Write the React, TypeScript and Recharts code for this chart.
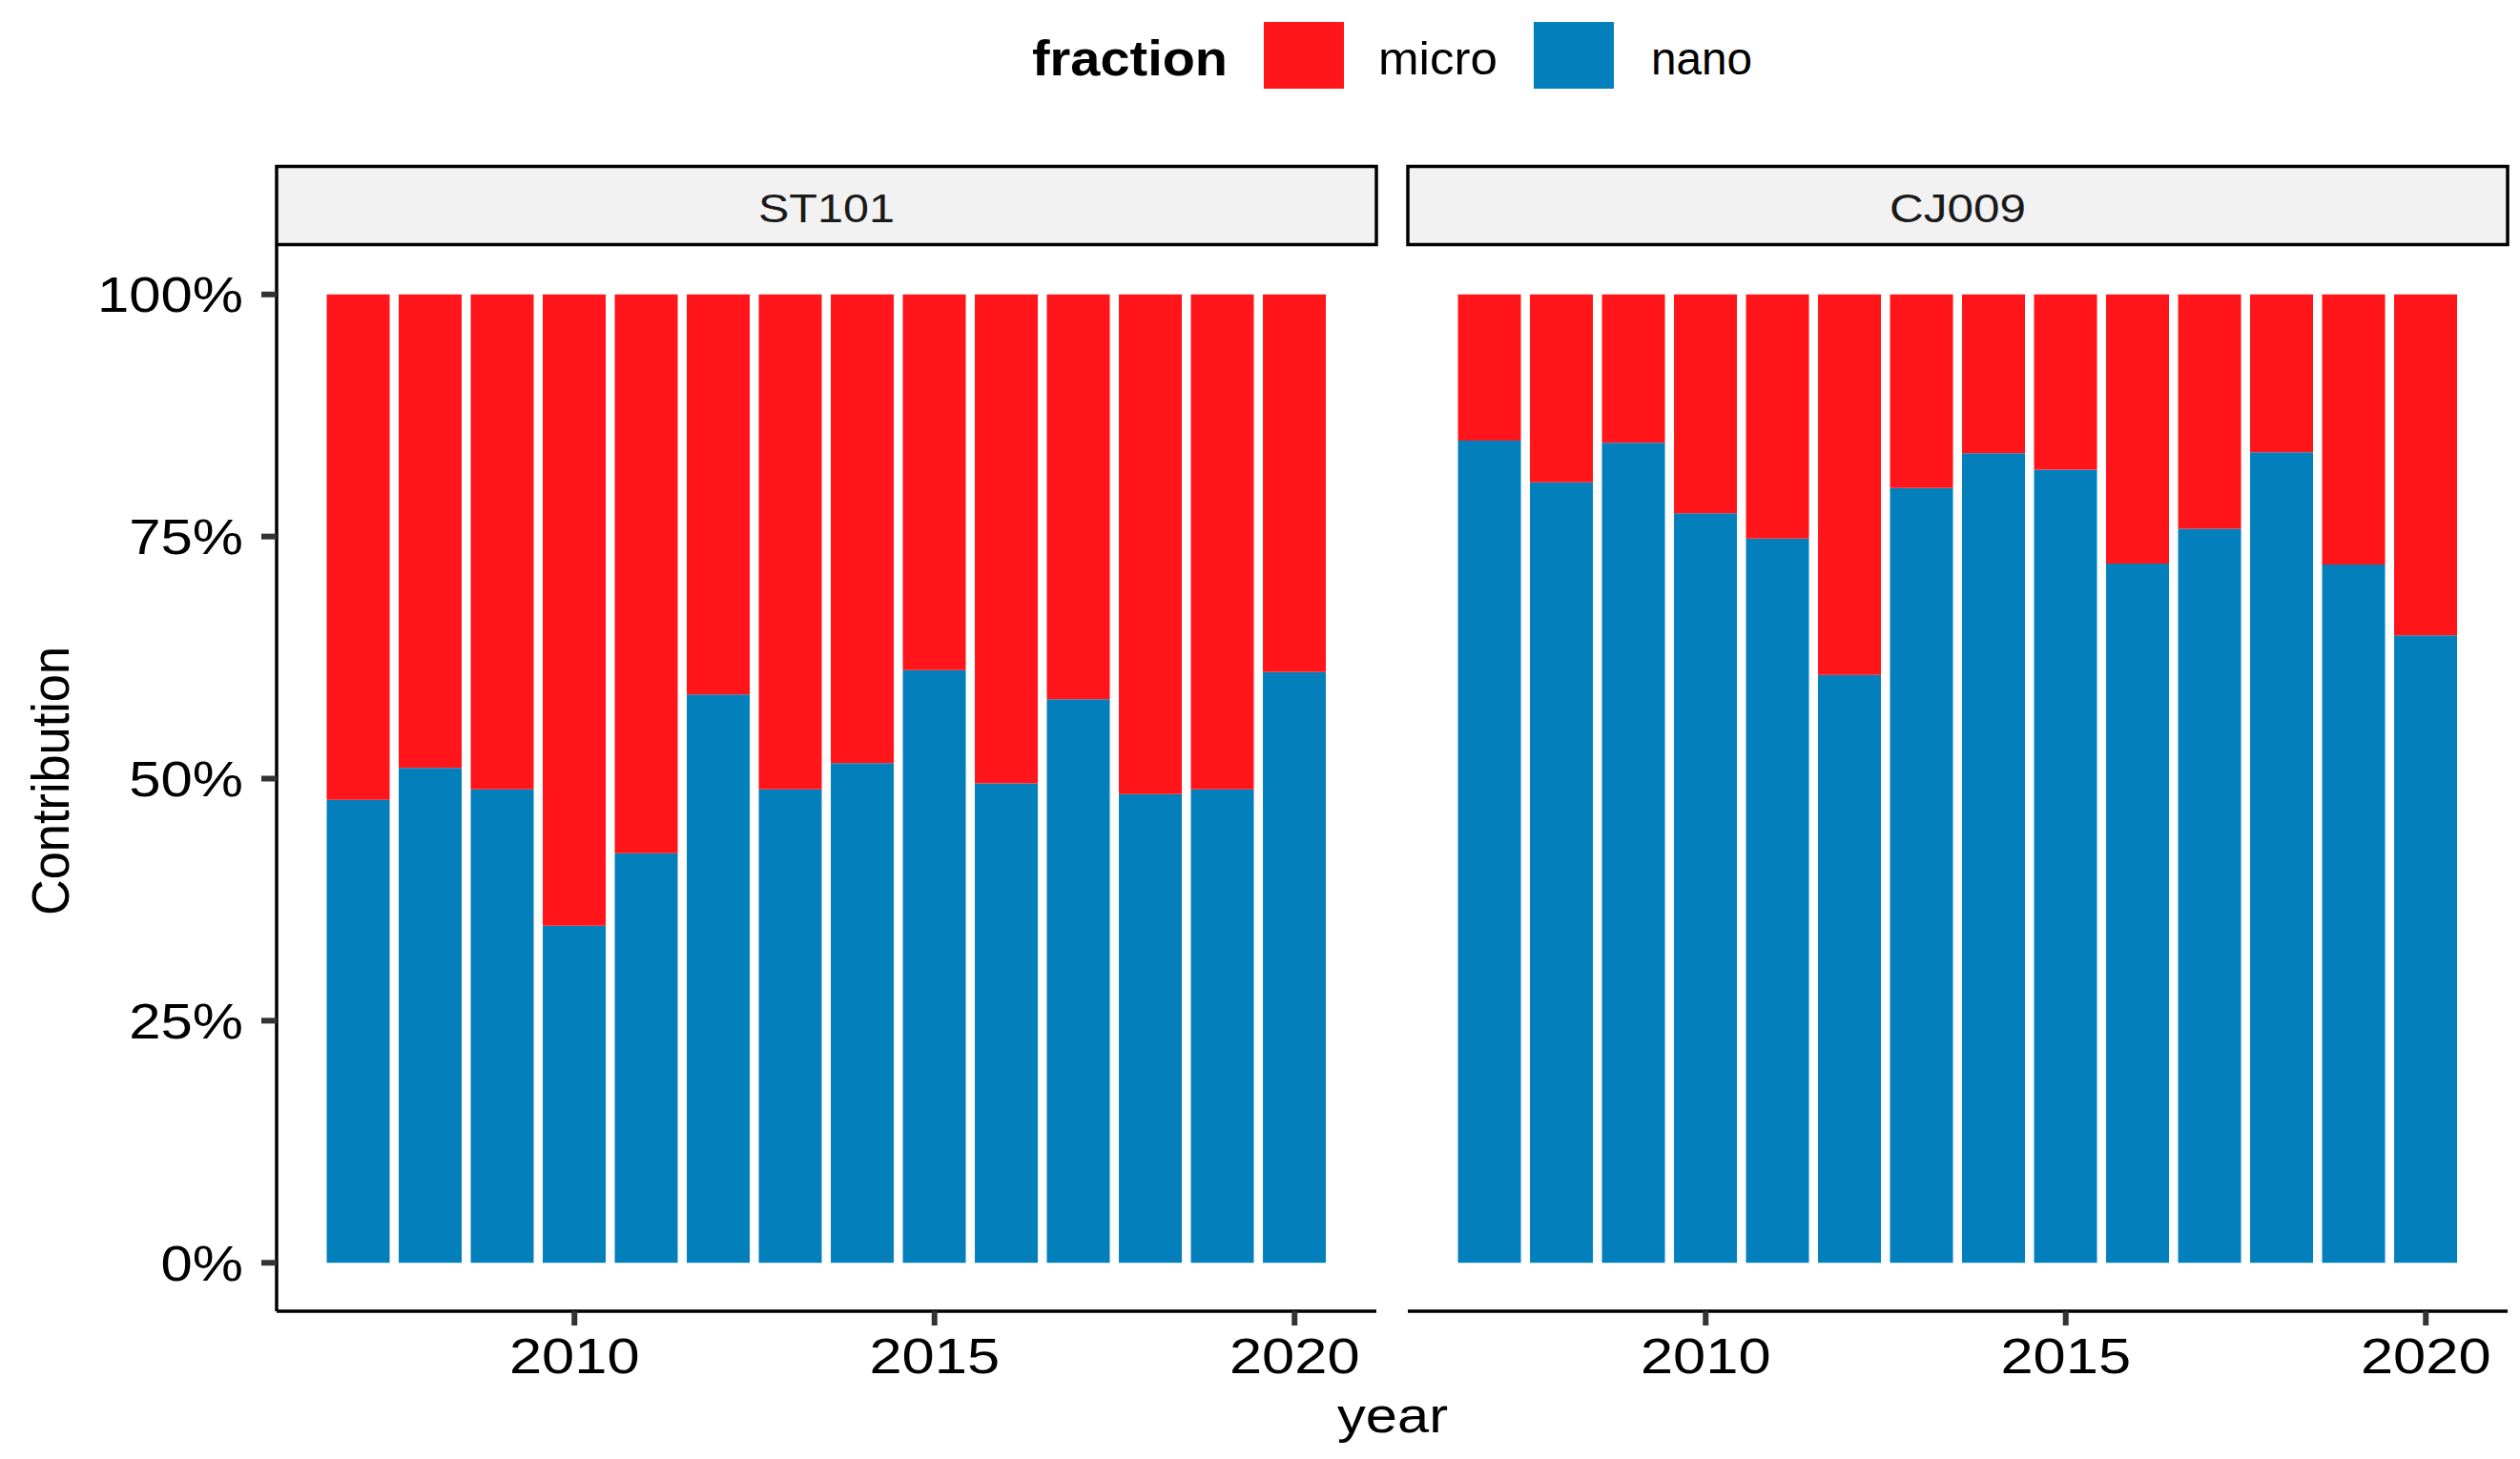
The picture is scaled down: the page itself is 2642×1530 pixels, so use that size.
import React from 'react';
import { BarChart, Bar, XAxis, YAxis } from 'recharts';

const years = [2007, 2008, 2009, 2010, 2011, 2012, 2013, 2014, 2015, 2016, 2017, 2018, 2019, 2020];
const fractions = ['micro', 'nano'];
const yTicks = [0, 25, 50, 75, 100];
const xTicks = [2010, 2015, 2020];

const st101Nano = [47.8, 51.1, 48.9, 34.8, 42.3, 58.7, 48.9, 51.6, 61.2, 49.5, 58.2, 48.4, 48.9, 61.0];
const st101Micro = [52.2, 48.9, 51.1, 65.2, 57.7, 41.3, 51.1, 48.4, 38.8, 50.5, 41.8, 51.6, 51.1, 39.0];
const cj009Nano = [84.9, 80.6, 84.7, 77.4, 74.8, 60.7, 80.0, 83.6, 81.9, 72.2, 75.8, 83.7, 72.1, 64.8];
const cj009Micro = [15.1, 19.4, 15.3, 22.6, 25.2, 39.3, 20.0, 16.4, 18.1, 27.8, 24.2, 16.3, 27.9, 35.2];

const COLORS: Record<string, string> = {
  micro: '#FF151A',
  nano: '#0380BC',
};

const FONT = '"Liberation Sans", Arial, Helvetica, sans-serif';

const toRows = (nano: number[], micro: number[]) =>
  years.map((year, i) => ({ year, nano: nano[i], micro: micro[i] }));

const st101Data = toRows(st101Nano, st101Micro);
const cj009Data = toRows(cj009Nano, cj009Micro);

const XTick = (props: any) => {
  const { x, y, payload } = props;
  if (!xTicks.includes(payload.value)) return <g />;
  return (
    <g>
      <line x1={x} x2={x} y1={y} y2={y + 15} stroke="#333" strokeWidth={6} />
      <text
        transform={`translate(${x},${y + 65}) scale(1.19,1)`}
        textAnchor="middle"
        fontSize={51.6}
        fontFamily={FONT}
        fill="#000"
      >
        {payload.value}
      </text>
    </g>
  );
};

const YTick = (props: any) => {
  const { x, y, payload } = props;
  return (
    <g>
      <line x1={x - 16} x2={x} y1={y} y2={y} stroke="#333" strokeWidth={6} />
      <text
        transform={`translate(${x - 35},${y + 18.5}) scale(1.16,1)`}
        textAnchor="end"
        fontSize={51.6}
        fontFamily={FONT}
        fill="#000"
      >
        {`${payload.value}%`}
      </text>
    </g>
  );
};

interface PanelProps {
  data: { year: number; nano: number; micro: number }[];
  showY: boolean;
  width: number;
  marginLeft: number;
}

const Panel: React.FC<PanelProps> = ({ data, showY, width, marginLeft }) => (
  <BarChart
    width={width}
    height={1272}
    data={data}
    margin={{ top: 0, right: 2, left: marginLeft, bottom: 0 }}
    barCategoryGap="6%"
  >
    <XAxis
      dataKey="year"
      type="category"
      height={155}
      padding={{ left: 48, right: 48 }}
      tickSize={0}
      tickMargin={0}
      tickLine={false}
      axisLine={{ stroke: '#000', strokeWidth: 3.5 }}
      tick={<XTick />}
      interval={0}
    />
    <YAxis
      type="number"
      domain={[-5, 105]}
      ticks={yTicks}
      width={showY ? 290 : 0}
      hide={!showY}
      tickSize={0}
      tickMargin={0}
      tickLine={false}
      axisLine={{ stroke: '#000', strokeWidth: 3.5 }}
      tick={<YTick />}
      interval={0}
    />
    <Bar dataKey="nano" stackId="a" fill={COLORS.nano} isAnimationActive={false} />
    <Bar dataKey="micro" stackId="a" fill={COLORS.micro} isAnimationActive={false} />
  </BarChart>
);

const Strip = ({ x, label }: { x: number; label: string }) => (
  <g>
    <rect x={x} y={174.5} width={1153} height={82} fill="#F2F2F2" stroke="#000" strokeWidth={3.5} />
    <text
      x={x + 576.5}
      y={233}
      textAnchor="middle"
      fontSize={42}
      fontFamily={FONT}
      fill="#1a1a1a"
      textLength={143}
      lengthAdjust="spacingAndGlyphs"
    >
      {label}
    </text>
  </g>
);

export default function App() {
  return (
    <div
      style={{
        position: 'absolute',
        left: 0,
        top: 0,
        width: 2642,
        height: 1530,
        background: '#fff',
        overflow: 'hidden',
      }}
    >
      <div style={{ position: 'absolute', left: 0, top: 258 }}>
        <Panel data={st101Data} showY width={1445} marginLeft={0} />
      </div>
      <div style={{ position: 'absolute', left: 1474, top: 258 }}>
        <Panel data={cj009Data} showY={false} width={1157} marginLeft={2} />
      </div>
      <svg
        width={2642}
        height={1530}
        style={{ position: 'absolute', left: 0, top: 0, pointerEvents: 'none' }}
      >
        {/* legend */}
        <text
          x={1082}
          y={79}
          fontSize={52}
          fontWeight="bold"
          fontFamily={FONT}
          fill="#000"
          textLength={205}
          lengthAdjust="spacingAndGlyphs"
        >
          fraction
        </text>
        <rect x={1325} y={23} width={84} height={70} fill={COLORS[fractions[0]]} />
        <text
          x={1445}
          y={78}
          fontSize={48}
          fontFamily={FONT}
          fill="#000"
          textLength={125}
          lengthAdjust="spacingAndGlyphs"
        >
          {fractions[0]}
        </text>
        <rect x={1608} y={23} width={84} height={70} fill={COLORS[fractions[1]]} />
        <text
          x={1731}
          y={78}
          fontSize={48}
          fontFamily={FONT}
          fill="#000"
          textLength={106}
          lengthAdjust="spacingAndGlyphs"
        >
          {fractions[1]}
        </text>

        {/* facet strips */}
        <Strip x={290} label="ST101" />
        <Strip x={1476} label="CJ009" />

        {/* axis titles */}
        <text
          transform="translate(72,819) rotate(-90) scale(1,1.1)"
          textAnchor="middle"
          fontSize={50}
          fontFamily={FONT}
          fill="#000"
          textLength={282}
          lengthAdjust="spacingAndGlyphs"
        >
          Contribution
        </text>
        <text
          x={1460}
          y={1502}
          textAnchor="middle"
          fontSize={52}
          fontFamily={FONT}
          fill="#000"
          textLength={116}
          lengthAdjust="spacingAndGlyphs"
        >
          year
        </text>
      </svg>
    </div>
  );
}
